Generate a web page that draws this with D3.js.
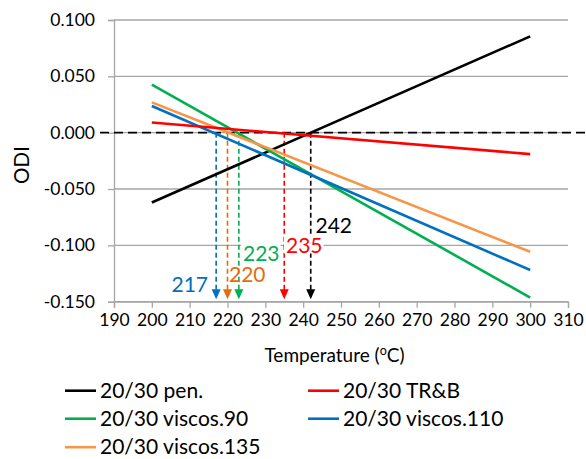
<!DOCTYPE html>
<html><head><meta charset="utf-8">
<script src="https://cdn.jsdelivr.net/npm/d3@7"></script>
<style>body{margin:0;background:#fff}svg{display:block}text{font-family:Lato,"Open Sans",sans-serif}</style>
</head><body>
<script>
// ---- data ----
const temps = [200, 300];
const pen = [-0.062, 0.0855];
const trb = [0.009, -0.019];
const visc90 = [0.0426, -0.1463];
const visc110 = [0.0237, -0.1219];
const visc135 = [0.0269, -0.1057];
const zeroLineX = [186.3, 314.8];
const xTicks = [190, 200, 210, 220, 230, 240, 250, 260, 270, 280, 290, 300, 310];
const yTicks = [0.1, 0.05, 0, -0.05, -0.1, -0.15];
const seriesNames = ["20/30 pen.", "20/30 TR&B", "20/30 viscos.90", "20/30 viscos.110", "20/30 viscos.135"];
const seriesColors = ["#000000", "#ff0000", "#00b050", "#0070c0", "#f79646"];
const crossTemps = [217, 220, 223, 235, 242];
const crossLabels = ["217", "220", "223", "235", "242"];
const crossColors = ["#0070c0", "#e46c0a", "#00b050", "#ff0000", "#000000"];

const W = 586, H = 459;
const svg = d3.select("body").append("svg").attr("width", W).attr("height", H);
svg.append("rect").attr("width", W).attr("height", H).attr("fill", "#fff");

const x = d3.scaleLinear().domain([190, 310]).range([114, 568]);
const y = d3.scaleLinear().domain([-0.15, 0.1]).range([301.7, 20]);

// gridlines
svg.append("g").selectAll("line").data(yTicks).join("line")
  .attr("x1", x(190)).attr("x2", x(310))
  .attr("y1", d => y(d)).attr("y2", d => y(d))
  .attr("stroke", "#a6a6a6").attr("stroke-width", 1.3);

// axes
const fmt = d => (d < 0 ? "-" : "") + Math.abs(d).toFixed(3);
const yAxis = svg.append("g").attr("transform", `translate(${x(190)},0)`)
  .call(d3.axisLeft(y).tickValues(yTicks).tickFormat(fmt).tickSize(6).tickPadding(13));
const xAxis = svg.append("g").attr("transform", `translate(0,${y(-0.15)})`)
  .call(d3.axisBottom(x).tickValues(xTicks).tickFormat(d3.format("d")).tickSize(6).tickPadding(6));
[yAxis, xAxis].forEach(a => {
  a.select(".domain").attr("stroke", "#a6a6a6").attr("stroke-width", 1.3);
  a.selectAll(".tick line").attr("stroke", "#a6a6a6").attr("stroke-width", 1.3);
  a.selectAll(".tick text").attr("fill", "#000").style("font-size", "17.5px").style("font-family", "Lato");
});

// zero dashed line
svg.append("line")
  .attr("x1", x(zeroLineX[0])).attr("x2", x(zeroLineX[1]))
  .attr("y1", y(0)).attr("y2", y(0))
  .attr("stroke", "#000").attr("stroke-width", 1.8).attr("stroke-dasharray", "9,5");

// drop lines
const ca = svg.append("g");
crossTemps.forEach((t, i) => {
  ca.append("line").attr("x1", x(t)).attr("x2", x(t))
    .attr("y1", y(0)).attr("y2", y(-0.15) - 10)
    .attr("stroke", crossColors[i]).attr("stroke-width", 1.6).attr("stroke-dasharray", "5,3");
  const tx = x(t), ty = y(-0.15) - 2.5;
  ca.append("path").attr("d", `M${tx - 4.5},${ty - 10}L${tx + 4.5},${ty - 10}L${tx},${ty}Z`)
    .attr("fill", crossColors[i]);
});

// series lines
const line = d3.line().x((d, i) => x(temps[i])).y(d => y(d));
const seriesVals = [pen, trb, visc90, visc110, visc135];
const drawOrder = [0, 2, 3, 4, 1];
drawOrder.forEach(i => {
  svg.append("path").datum(seriesVals[i]).attr("d", line)
    .attr("fill", "none").attr("stroke", seriesColors[i]).attr("stroke-width", 2.6);
});

// crossing labels
const labelPos = [
  {x: 208, y: 291.5, anchor: "end", bg: false},
  {x: 229, y: 282, anchor: "start", bg: false},
  {x: 243, y: 261, anchor: "start", bg: true},
  {x: 286, y: 252.5, anchor: "start", bg: true},
  {x: 315.5, y: 233.3, anchor: "start", bg: true}
];
crossLabels.forEach((lab, i) => {
  const p = labelPos[i];
  const t = svg.append("text").attr("x", p.x).attr("y", p.y).attr("text-anchor", p.anchor)
    .attr("fill", crossColors[i]).style("font-size", "21px").text(lab);
  if (p.bg) {
    const b = t.node().getBBox();
    svg.insert("rect", () => t.node()).attr("x", b.x - 2).attr("y", b.y + 3).attr("width", b.width + 3).attr("height", b.height - 6).attr("fill", "#fff");
  }
});

// axis titles
svg.append("text").attr("transform", "translate(29,165) rotate(-90)").attr("text-anchor", "middle")
  .style("font-size", "20.5px").text("ODI");
const xt = svg.append("text").attr("x", 334.5).attr("y", 361.5).attr("text-anchor", "middle").style("font-size", "19px");
xt.append("tspan").text("Temperature (");
xt.append("tspan").attr("dy", -7).style("font-size", "12.5px").text("o");
xt.append("tspan").attr("dy", 7).text("C)");

// legend
const legPos = [[65, 390.7], [308, 390.7], [65, 418.7], [308, 418.7], [65, 447.2]];
seriesNames.forEach((n, i) => {
  const [lx, ly] = legPos[i];
  svg.append("line").attr("x1", lx).attr("x2", lx + 31).attr("y1", ly).attr("y2", ly)
    .attr("stroke", seriesColors[i]).attr("stroke-width", 2.6);
  svg.append("text").attr("x", lx + 35).attr("y", ly + 7).style("font-size", "21px").text(n);
});
</script>
</body></html>
